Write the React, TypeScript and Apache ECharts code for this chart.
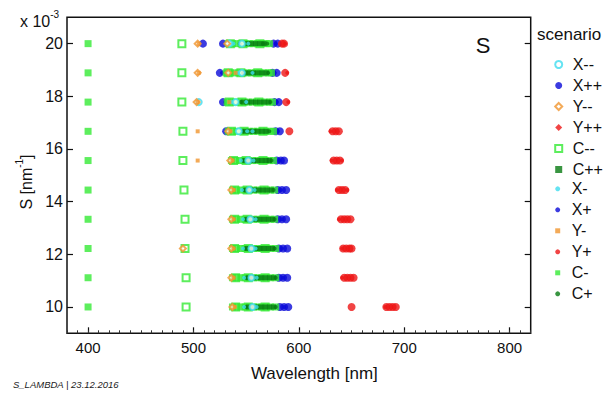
import React, { useEffect, useRef } from 'react';
import * as echarts from 'echarts';

// S levels (x 10^-3 nm^-1), one row of points per level, top to bottom
const sLevels = [20, 18.89, 17.78, 16.67, 15.56, 14.44, 13.33, 12.22, 11.11, 10];
const xTickValues = [400, 500, 600, 700, 800];
const yTickValues = [10, 12, 14, 16, 18, 20];

// wavelengths [nm] per S level, per scenario
const xMinusMinus = [[534, 546], [546], [505, 540], [543], [552], [553], [554], [555], [555], [556]];
const xPlusPlus = [[509, 528, 576, 580], [525, 575, 579], [528, 577, 581], [531, 578, 582], [579, 583, 586], [580, 584, 588], [580, 584, 588], [581, 585, 589], [581, 585, 589], [582, 586, 590]];
const yMinusMinus = [[504, 532], [504, 533], [503], [533], [535], [536], [536], [490, 536], [536], [537]];
const yPlusPlus = [[584, 586], [587], [588], [591, 632, 635, 638], [633, 636, 639], [638, 641, 644], [640, 643, 646, 649], [642, 645, 648, 650], [643, 646, 649, 652], [650, 683, 686, 689, 692]];
const cMinusMinus = [[489, 535, 547, 563], [489, 533, 545, 561], [489, 534, 546, 562], [490, 536, 548, 566], [490, 538, 550, 566], [491, 539, 551, 567], [492, 539, 551, 567], [492, 539, 552, 568], [493, 540, 552, 568], [493, 540, 552, 568]];
const cPlusPlus = [[551, 555, 559, 563, 567], [549, 553, 557, 561, 565, 569], [547, 551, 555, 559, 563, 567, 571], [549, 553, 557, 561, 565, 569], [549, 553, 557, 561, 565, 569, 572], [550, 554, 558, 562, 566, 570, 574], [551, 555, 559, 563, 567, 571, 575], [551, 555, 559, 563, 567, 571, 575], [552, 556, 560, 564, 568, 572, 576], [552, 556, 560, 564, 568, 572, 576]];
const xMinus = [[538, 552], [542, 556], [536, 550], [551, 556], [545, 557], [546, 558], [547, 559], [547, 559], [548, 560], [548, 560]];
const xPlus = [[550, 578], [527, 577], [530, 579], [533, 580], [582], [583], [584], [584], [585], [586]];
const yMinus = [[505], [505, 540], [504, 534], [504, 535], [504, 537], [538], [538], [538], [538], [539]];
const yPlus = [[587], [589], [590], [630], [631, 641], [636, 646], [638], [641], [641], [682]];
const cMinus = [
  [400, 533, 537, 541, 545, 549, 553, 557, 561, 565, 569, 572],
  [400, 531, 535, 539, 543, 547, 551, 555, 559, 563, 567, 571, 574],
  [400, 532, 536, 540, 544, 548, 552, 556, 560, 564, 568, 572, 575],
  [400, 533, 537, 541, 545, 549, 553, 557, 561, 565, 569, 573, 576],
  [400, 536, 540, 544, 548, 552, 556, 560, 564, 568, 572, 576],
  [400, 537, 541, 545, 549, 553, 557, 561, 565, 569, 573, 577],
  [400, 537, 541, 545, 549, 553, 557, 561, 565, 569, 573, 577],
  [400, 537, 541, 545, 549, 553, 557, 561, 565, 569, 573, 578],
  [400, 537, 541, 545, 549, 553, 557, 561, 565, 569, 573, 578],
  [400, 537, 541, 545, 549, 553, 557, 561, 565, 569, 573, 578],
];
const cPlus = [[544, 566, 570], [547, 571], [545, 573], [547, 572], [547, 574], [548, 576], [549, 577], [549, 577], [550, 578], [550, 578]];

const legendBig = ['X--', 'X++', 'Y--', 'Y++', 'C--', 'C++'];
const legendSmall = ['X-', 'X+', 'Y-', 'Y+', 'C-', 'C+'];

const CYAN = '#3fdcef';
const BLUE = '#0a0ad8';
const ORANGE = '#f0952e';
const RED = '#ee1515';
const LGREEN = '#34ea34';
const DGREEN = '#077a12';
const FONT = 'Liberation Sans, Arial, sans-serif';

type Def = { name: string; rows: number[][]; symbol: string; icon: string; size: number; color: string; empty?: boolean };

// drawn bottom to top
const defs: Def[] = [
  { name: 'X++', rows: xPlusPlus, symbol: 'circle', icon: 'circle', size: 8, color: BLUE },
  { name: 'X+', rows: xPlus, symbol: 'circle', icon: 'circle', size: 4, color: BLUE },
  { name: 'Y++', rows: yPlusPlus, symbol: 'circle', icon: 'diamond', size: 8, color: RED },
  { name: 'Y+', rows: yPlus, symbol: 'circle', icon: 'circle', size: 4, color: RED },
  { name: 'C--', rows: cMinusMinus, symbol: 'emptyRect', icon: 'emptyRect', size: 7, color: LGREEN, empty: true },
  { name: 'C-', rows: cMinus, symbol: 'rect', icon: 'rect', size: 7, color: LGREEN },
  { name: 'C++', rows: cPlusPlus, symbol: 'rect', icon: 'rect', size: 5, color: DGREEN },
  { name: 'C+', rows: cPlus, symbol: 'circle', icon: 'circle', size: 4, color: DGREEN },
  { name: 'X--', rows: xMinusMinus, symbol: 'emptyCircle', icon: 'emptyCircle', size: 6, color: CYAN, empty: true },
  { name: 'X-', rows: xMinus, symbol: 'circle', icon: 'circle', size: 4, color: CYAN },
  { name: 'Y--', rows: yMinusMinus, symbol: 'emptyDiamond', icon: 'emptyDiamond', size: 6, color: ORANGE, empty: true },
  { name: 'Y-', rows: yMinus, symbol: 'rect', icon: 'rect', size: 4, color: ORANGE },
];

const findDef = (n: string) => defs.find((d) => d.name === n) as Def;

export default function App() {
  const ref = useRef<HTMLDivElement>(null);
  useEffect(() => {
    if (!ref.current) return;
    const chart = echarts.init(ref.current, undefined, { renderer: 'svg' });
    const series = defs.map((d) => ({
      name: d.name,
      type: 'scatter',
      xAxisIndex: 0,
      yAxisIndex: 0,
      symbol: d.symbol,
      symbolSize: d.size,
      data: d.rows.flatMap((ws, i) => ws.map((w) => [w, sLevels[i]])),
      itemStyle: d.empty
        ? { color: d.color, borderColor: d.color, borderWidth: 1.6 }
        : { color: d.color },
      emphasis: { disabled: true },
    }));
    const legendText = (pad: number) => ({
      fontFamily: FONT, fontSize: 16, color: '#111', lineHeight: 21, padding: [0, 0, 0, pad],
    });
    chart.setOption({
      animation: false,
      backgroundColor: '#fff',
      grid: { left: 67, right: 83.3, top: 17.3, bottom: 62.7, show: true, borderColor: '#111', borderWidth: 1.5, backgroundColor: 'transparent' },
      legend: [
        {
          orient: 'vertical', left: 554.2, top: 54, padding: 0, itemGap: 0, selectedMode: false,
          itemWidth: 7, itemHeight: 7, textStyle: legendText(5.5),
          data: legendBig.map((n) => ({ name: n, icon: findDef(n).icon })),
        },
        {
          orient: 'vertical', left: 555.2, top: 178.3, padding: 0, itemGap: 0, selectedMode: false,
          itemWidth: 5, itemHeight: 5, textStyle: legendText(6.5),
          data: legendSmall.map((n) => ({ name: n, icon: findDef(n).icon })),
        },
      ],
      xAxis: [
        {
          type: 'value', position: 'bottom', min: 380, max: 820,
          axisLine: { show: false },
          axisTick: { show: true, inside: true, length: 6, customValues: xTickValues, lineStyle: { color: '#111', width: 1.2 } },
          axisLabel: { customValues: xTickValues, fontFamily: FONT, fontSize: 15, color: '#111', margin: 7 },
          splitLine: { show: false },
          name: 'Wavelength [nm]', nameLocation: 'middle', nameGap: 32,
          nameTextStyle: { fontFamily: FONT, fontSize: 17, color: '#111', padding: [0, 0, 0, 31] },
        },
        {
          type: 'value', position: 'bottom', min: 380, max: 820, interval: 10,
          axisLine: { show: false },
          axisTick: { show: true, inside: true, length: 3, lineStyle: { color: '#333', width: 1 } },
          axisLabel: { show: false },
          splitLine: { show: false },
        },
      ],
      yAxis: [
        {
          type: 'value', position: 'left', min: 9, max: 21, interval: 1,
          axisLine: { show: false },
          axisTick: { show: true, inside: true, length: 6, customValues: yTickValues, lineStyle: { color: '#111', width: 1.2 } },
          axisLabel: { customValues: yTickValues, fontFamily: FONT, fontSize: 16, color: '#111', margin: 4 },
          splitLine: { show: false },
        },
        {
          type: 'value', position: 'right', min: 9, max: 21, interval: 1,
          axisLine: { show: false },
          axisTick: { show: true, inside: true, length: 6, customValues: yTickValues, lineStyle: { color: '#111', width: 1.2 } },
          axisLabel: { show: false },
          splitLine: { show: false },
        },
      ],
      graphic: [
        {
          type: 'text', left: 20, top: 9,
          style: {
            text: '{a|x 10}{b|-3}',
            rich: {
              a: { fontFamily: FONT, fontSize: 16, fill: '#111', lineHeight: 20, verticalAlign: 'bottom' },
              b: { fontFamily: FONT, fontSize: 10, fill: '#111', lineHeight: 10, verticalAlign: 'top' },
            },
          },
        },
        {
          type: 'text', x: 24, y: 182, rotation: Math.PI / 2,
          style: {
            text: '{a|S [nm}{b|-1}{a|]}', align: 'center', verticalAlign: 'middle',
            rich: {
              a: { fontFamily: FONT, fontSize: 16, fill: '#111', lineHeight: 20, verticalAlign: 'bottom' },
              b: { fontFamily: FONT, fontSize: 10, fill: '#111', lineHeight: 10, verticalAlign: 'top' },
            },
          },
        },
        { type: 'text', x: 483, y: 45, style: { text: 'S', fontFamily: FONT, fontSize: 22, fill: '#111', align: 'center', verticalAlign: 'middle' } },
        { type: 'text', x: 537, y: 34, style: { text: 'scenario', fontFamily: FONT, fontSize: 17, fill: '#111', align: 'left', verticalAlign: 'middle' } },
        { type: 'text', x: 13, y: 384, style: { text: 'S_LAMBDA | 23.12.2016', fontFamily: FONT, fontSize: 9.5, fontStyle: 'italic', fill: '#222', align: 'left', verticalAlign: 'middle' } },
      ],
      series,
    });
    return () => chart.dispose();
  }, []);
  return <div ref={ref} style={{ position: 'absolute', left: 0, top: 0, width: 614, height: 396 }} />;
}
